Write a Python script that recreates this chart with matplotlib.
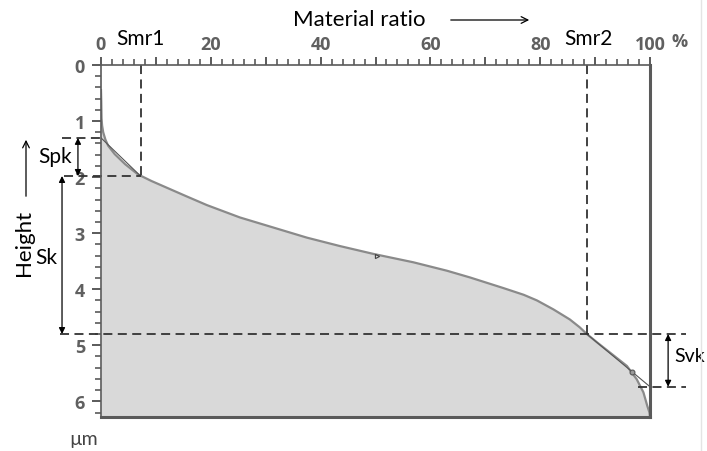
import matplotlib.pyplot as plt
from matplotlib.patches import FancyArrowPatch
from matplotlib.ticker import FixedLocator

# Abbott-Firestone bearing curve (material ratio % vs height um)
ratio = [0.0, 0.05, 0.1, 0.2, 0.4, 0.8, 1.3, 2.5, 4.4, 6.7, 9.2, 12.0, 15.5, 19.3,
         25.3, 31.4, 37.5, 43.5, 49.6, 56.9, 63.0, 67.2, 73.3, 77.0, 79.4, 82.4,
         85.4, 87.2, 88.5, 90.5, 92.7, 95.8, 97.6, 98.8, 99.5, 99.9, 100.0]
height = [0.45, 0.65, 0.95, 1.08, 1.20, 1.33, 1.44, 1.59, 1.77, 1.95, 2.07, 2.19, 2.34,
          2.50, 2.72, 2.90, 3.08, 3.23, 3.37, 3.52, 3.67, 3.79, 3.98, 4.10, 4.20, 4.36,
          4.54, 4.68, 4.80, 4.96, 5.13, 5.37, 5.61, 5.84, 6.08, 6.20, 6.28]

spk_top, sk_top, sk_bottom, svk_bottom = 1.30, 1.98, 4.80, 5.74
smr1, smr2 = 7.2, 88.5
y_bottom = 6.28

x_ticks = [0, 10, 20, 30, 40, 50, 60, 70, 80, 90, 100]
x_labels = ["0", "", "20", "", "40", "", "60", "", "80", "", "100"]
y_ticks = [0, 1, 2, 3, 4, 5, 6]
y_labels = ["0", "1", "2", "3", "4", "5", "6"]

ANN = "Lato"
TICKF = "Open Sans"
frame = "#5a5a5a"
tick_txt = "#606060"
dash = (0, (5, 3))

fig = plt.figure(figsize=(7.07, 4.52), dpi=100)
ax = fig.add_axes([101 / 707, 1 - 418 / 452, 549 / 707, 352 / 452])

ax.fill_between(ratio, height, y_bottom, color="#d9d9d9", lw=0)
ax.plot(ratio, height, color="#8a8a8a", lw=1.6, solid_joinstyle="round")

# secants of the Spk / Svk triangles
ax.plot([0, smr1], [spk_top, sk_top], color="#555555", lw=0.8)
ax.plot([smr2, 100], [sk_bottom, svk_bottom], color="#555555", lw=0.8)
ax.plot([50.3], [3.40], marker=">", ms=3, color="#444444", mfc="none", mew=0.8)
ax.plot([96.7], [5.48], marker="o", ms=3.5, color="#555555", mfc="#999999", mew=0.8)

ax.set_xlim(0, 100)
ax.set_ylim(y_bottom, 0)

for s in ax.spines.values():
    s.set_color(frame)
ax.spines["top"].set_linewidth(1.2)
ax.spines["left"].set_linewidth(1.2)
ax.spines["right"].set_linewidth(2.2)
ax.spines["bottom"].set_linewidth(2.2)

ax.xaxis.tick_top()
ax.xaxis.set_major_locator(FixedLocator(x_ticks))
ax.xaxis.set_minor_locator(FixedLocator([v for v in range(0, 101, 2) if v % 10]))
ax.set_xticklabels(x_labels, fontfamily=TICKF, fontweight="bold", fontsize=13, color=tick_txt)
ax.yaxis.set_major_locator(FixedLocator(y_ticks))
ax.yaxis.set_minor_locator(FixedLocator([i / 5 for i in range(32) if i % 5]))
ax.set_yticklabels(y_labels, fontfamily=TICKF, fontweight="bold", fontsize=13, color=tick_txt)
ax.tick_params(which="major", length=6.5, width=1.4, color=frame, pad=5)
ax.tick_params(which="minor", length=4, width=1.2, color=frame)
ax.tick_params(axis="x", which="both", bottom=False, top=True)
ax.tick_params(axis="x", which="major", length=6, pad=3)

# construction lines
kw = dict(color="#333333", lw=1.3, linestyle=dash, clip_on=False)
ax.plot([-7.1, 0], [spk_top, spk_top], **kw)
ax.plot([-6.8, smr1], [sk_top, sk_top], **kw)
ax.plot([-7.5, 106.6], [sk_bottom, sk_bottom], **kw)
ax.plot([97.8, 106.6], [svk_bottom, svk_bottom], **kw)
ax.plot([smr1, smr1], [0, sk_top], **kw)
ax.plot([smr2, smr2], [0, sk_bottom], **kw)

arr = dict(arrowstyle="<|-|>", color="black", lw=0.9, mutation_scale=9, shrinkA=0, shrinkB=0)
ax.annotate("", xy=(-4.2, spk_top), xytext=(-4.2, sk_top), arrowprops=arr, annotation_clip=False)
ax.annotate("", xy=(-7.1, sk_top), xytext=(-7.1, sk_bottom), arrowprops=arr, annotation_clip=False)
ax.annotate("", xy=(103.3, sk_bottom), xytext=(103.3, svk_bottom), arrowprops=arr, annotation_clip=False)

tk = dict(fontfamily=ANN, fontsize=15, color="black")
ax.text(-8.3, (spk_top + sk_top) / 2 - 0.02, "Spk", ha="center", va="center", clip_on=False, **tk)
ax.text(-10.0, 3.43, "Sk", ha="center", va="center", clip_on=False, **tk)
ax.text(104.4, 5.18, "Svk", ha="left", va="center", clip_on=False,
        fontfamily=ANN, fontsize=14, color="black")
ax.text(smr1, -0.31, "Smr1", ha="center", va="bottom", clip_on=False, **tk)
ax.text(88.8, -0.31, "Smr2", ha="center", va="bottom", clip_on=False, **tk)
ax.text(105.4, -0.27, "%", ha="center", va="bottom", fontfamily=TICKF, fontweight="bold",
        fontsize=13, color=tick_txt, clip_on=False)

fig.text(359 / 707, 1 - 20 / 452, "Material ratio", ha="center", va="center",
         fontfamily=ANN, fontsize=16, color="black")
fig.text(24 / 707, 1 - 243 / 452, "Height", ha="center", va="center", rotation=90,
         fontfamily=ANN, fontsize=16, color="black")
fig.text(84 / 707, 1 - 440 / 452, "µm", ha="center", va="center", fontfamily=ANN,
         fontsize=14, color="#444444")
fig.patches.append(FancyArrowPatch(
    (448 / 707, 1 - 21 / 452), (532 / 707, 1 - 21 / 452), transform=fig.transFigure,
    arrowstyle="->", mutation_scale=12, lw=0.9, color="black"))
fig.patches.append(FancyArrowPatch(
    (26 / 707, 1 - 200 / 452), (26 / 707, 1 - 138 / 452), transform=fig.transFigure,
    arrowstyle="->", mutation_scale=12, lw=0.9, color="black"))
fig.add_artist(plt.Line2D([701 / 707, 701 / 707], [0, 1], color="#e4e4e4", lw=1))

fig.savefig("out.png", dpi=100)
